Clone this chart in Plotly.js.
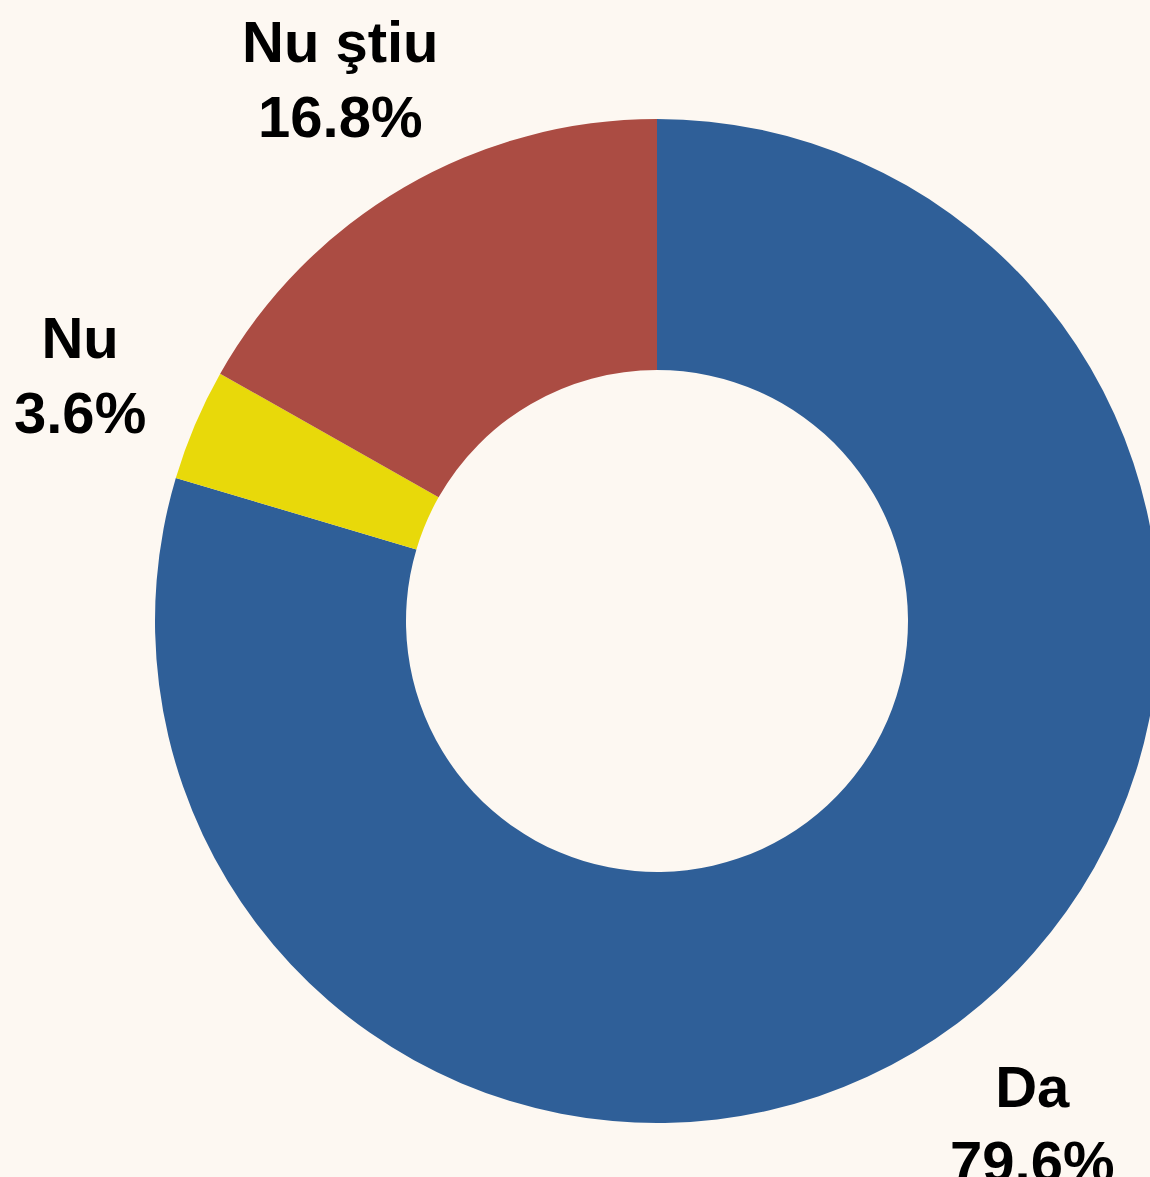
<!DOCTYPE html>
<html>
<head>
<meta charset="utf-8">
<script src="https://cdn.plot.ly/plotly-3.0.1.min.js"></script>
<style>
html,body{margin:0;padding:0;background:#fdf8f2;overflow:hidden;width:1150px;height:1177px;}
#chart{width:1314px;height:1177px;}
</style>
</head>
<body>
<div id="chart"></div>
<script>
const labels = ["Da", "Nu", "Nu ştiu"];
const values = [79.6, 3.6, 16.8];
const colors = ["#2f5f98", "#e8d90a", "#ab4c43"];

const W = 1314, H = 1177, T = 119, B = 54;
const plotH = H - T - B;
const R = Math.min(W, plotH) / 2;
const labelDist = 1.25;

const total = values.reduce((a, b) => a + b, 0);
let cum = 0;
const annotations = values.map((v, i) => {
  const mid = (cum + v / 2) / total * 2 * Math.PI;
  cum += v;
  return {
    xref: "paper", yref: "paper",
    x: 0.5 + labelDist * R * Math.sin(mid) / W,
    y: 0.5 + labelDist * R * Math.cos(mid) / plotH,
    xanchor: "center", yanchor: "middle",
    text: "<b>" + labels[i] + "</b><br><b>" + v.toFixed(1) + "%</b>",
    showarrow: false,
    align: "center",
    font: {family: "Liberation Sans, Arial, sans-serif", size: 58, color: "#000000"}
  };
});

Plotly.newPlot("chart", [{
  type: "pie",
  labels: labels,
  values: values,
  hole: 0.5,
  sort: false,
  direction: "clockwise",
  rotation: 0,
  marker: {colors: colors, line: {width: 0}},
  textinfo: "none",
  showlegend: false,
  automargin: false,
  hoverinfo: "none"
}], {
  width: W,
  height: H,
  margin: {l: 0, r: 0, t: T, b: B, pad: 0},
  paper_bgcolor: "#fdf8f2",
  plot_bgcolor: "#fdf8f2",
  showlegend: false,
  annotations: annotations
}, {displayModeBar: false, staticPlot: true});
</script>
</body>
</html>
